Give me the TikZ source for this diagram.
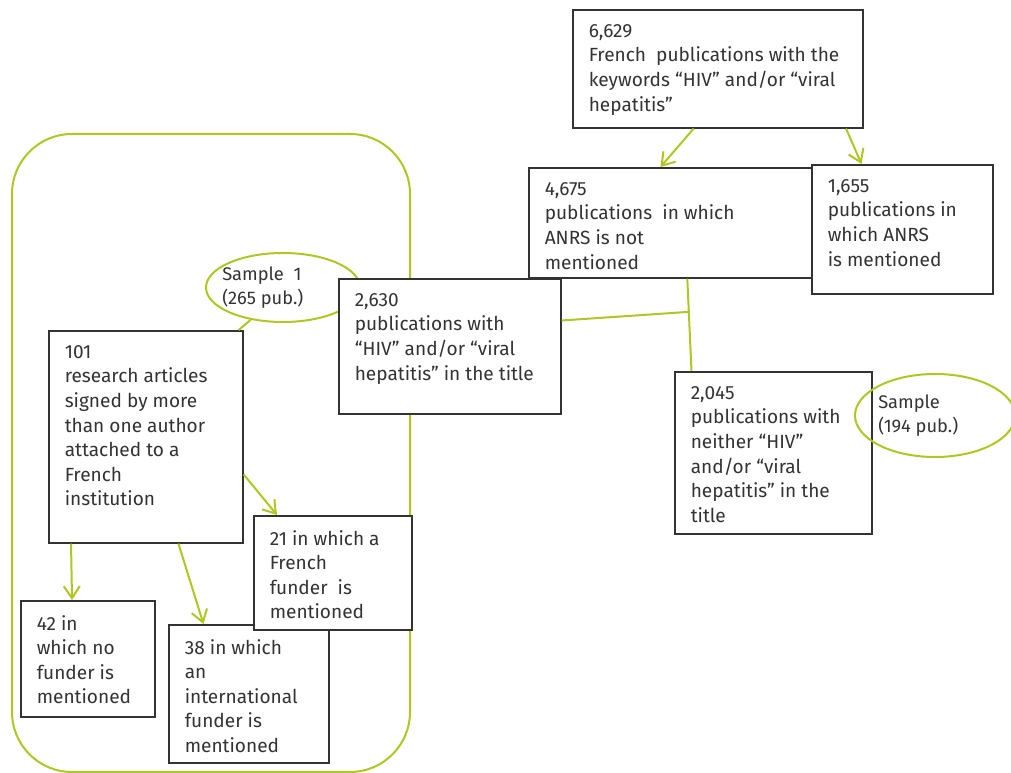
\documentclass[tikz,border=0pt]{standalone}
\usepackage{fontspec}
\setmainfont{Fira Sans}
\usetikzlibrary{arrows.meta,shapes.geometric,calc}
\definecolor{leaf}{RGB}{176,198,34}
\definecolor{ink}{RGB}{51,51,51}
\begin{document}
\begin{tikzpicture}[
   x=0.75pt,y=-0.75pt,
   font=\fontsize{14.3}{18.4}\selectfont,
   state/.style={draw=ink,line width=1.2pt,fill=white,text=ink,anchor=north west,inner xsep=12pt,inner ysep=11pt},
   sample/.style={draw=leaf,line width=1.5pt,ellipse,inner sep=0pt},
   tag/.style={anchor=west,text=ink,align=left,inner sep=0pt,font=\fontsize{13.7}{17.5}\selectfont},
   to/.style={-{Straight Barb[length=9pt,width=12pt]},draw=leaf,line width=1.5pt},
   link/.style={draw=leaf,line width=1.5pt}]
\useasboundingbox (0,0) rectangle (1011,773);
% sample 1 frame
\draw[link,rounded corners=45pt] (12,134) rectangle (410,772);
\node[sample,minimum width=115.5pt,minimum height=51.75pt] (sample1) at (283,287.5) {};
\node[tag] (sample1 text) at ([xshift=12.75pt]sample1.west) {Sample\ \ 1\\(265 pub.)};
\node[state] (articles) at (48,330) {\parbox[t][137pt][t]{121.5pt}{\raggedright 101\\research articles\\signed by more\\than one author\\attached to a\\French\\institution}};
\draw[link] (sample1.225) -- (articles.49);
% top part
\node[state] (all) at (572,9) {\parbox[t][66.5pt][t]{193.5pt}{\raggedright 6,629\\French\ \ publications with the\\keywords “HIV” and/or “viral\\hepatitis”}};
\node[state] (noANRS) at (528,167) {\parbox[t][60.5pt][t]{189.75pt}{\raggedright 4,675\\publications\ \ in which\\ANRS is not\\mentioned}};
\node[state] (ANRS) at (811,164) {\parbox[t][74.75pt][t]{111.75pt}{\raggedright 1,655\\publications in\\which ANRS\\is mentioned}};
\node[state] (title) at (338,278) {\parbox[t][79.25pt][t]{142.5pt}{\raggedright 2,630\\publications with\\“HIV” and/or “viral\\hepatitis” in the title}};
\node[state] (notitle) at (674,371) {\parbox[t][99.5pt][t]{123.75pt}{\raggedright 2,045\\publications with\\neither “HIV”\\and/or “viral\\hepatitis” in the\\title}};
\node[sample,minimum width=120pt,minimum height=62.25pt] (sample2) at (935,415.5) {};
\node[tag] (sample2 text) at ([xshift=18pt]sample2.west) {Sample\\(194 pub.)};
% funders
\node[state] (none) at (20,600) {\parbox[t][65pt][t]{76.5pt}{\raggedright 42 in\\which no\\funder is\\mentioned}};
\node[state] (intl) at (168,624) {\parbox[t][81.5pt][t]{96pt}{\raggedright 38 in which\\an\\international\\funder is\\mentioned}};
\node[state] (french) at (253,515) {\parbox[t][63.5pt][t]{94.5pt}{\raggedright 21 in which a\\French\\funder\ \ is\\mentioned}};
\draw[to] (all.248) -- (noANRS.101);
\draw[to] (all.335) -- (ANRS.122);
\draw[link] (noANRS.286) -- (notitle.135);
\coordinate (junction) at ($(noANRS.286)!0.36!(notitle.135)$);
\draw[link] (title.13) -- (junction);
\draw[to] (articles.339) -- (french.134);
\draw[to] (articles.235) -- (none.105);
\draw[to] (articles.287) -- (intl.123);
\end{tikzpicture}
\end{document}
